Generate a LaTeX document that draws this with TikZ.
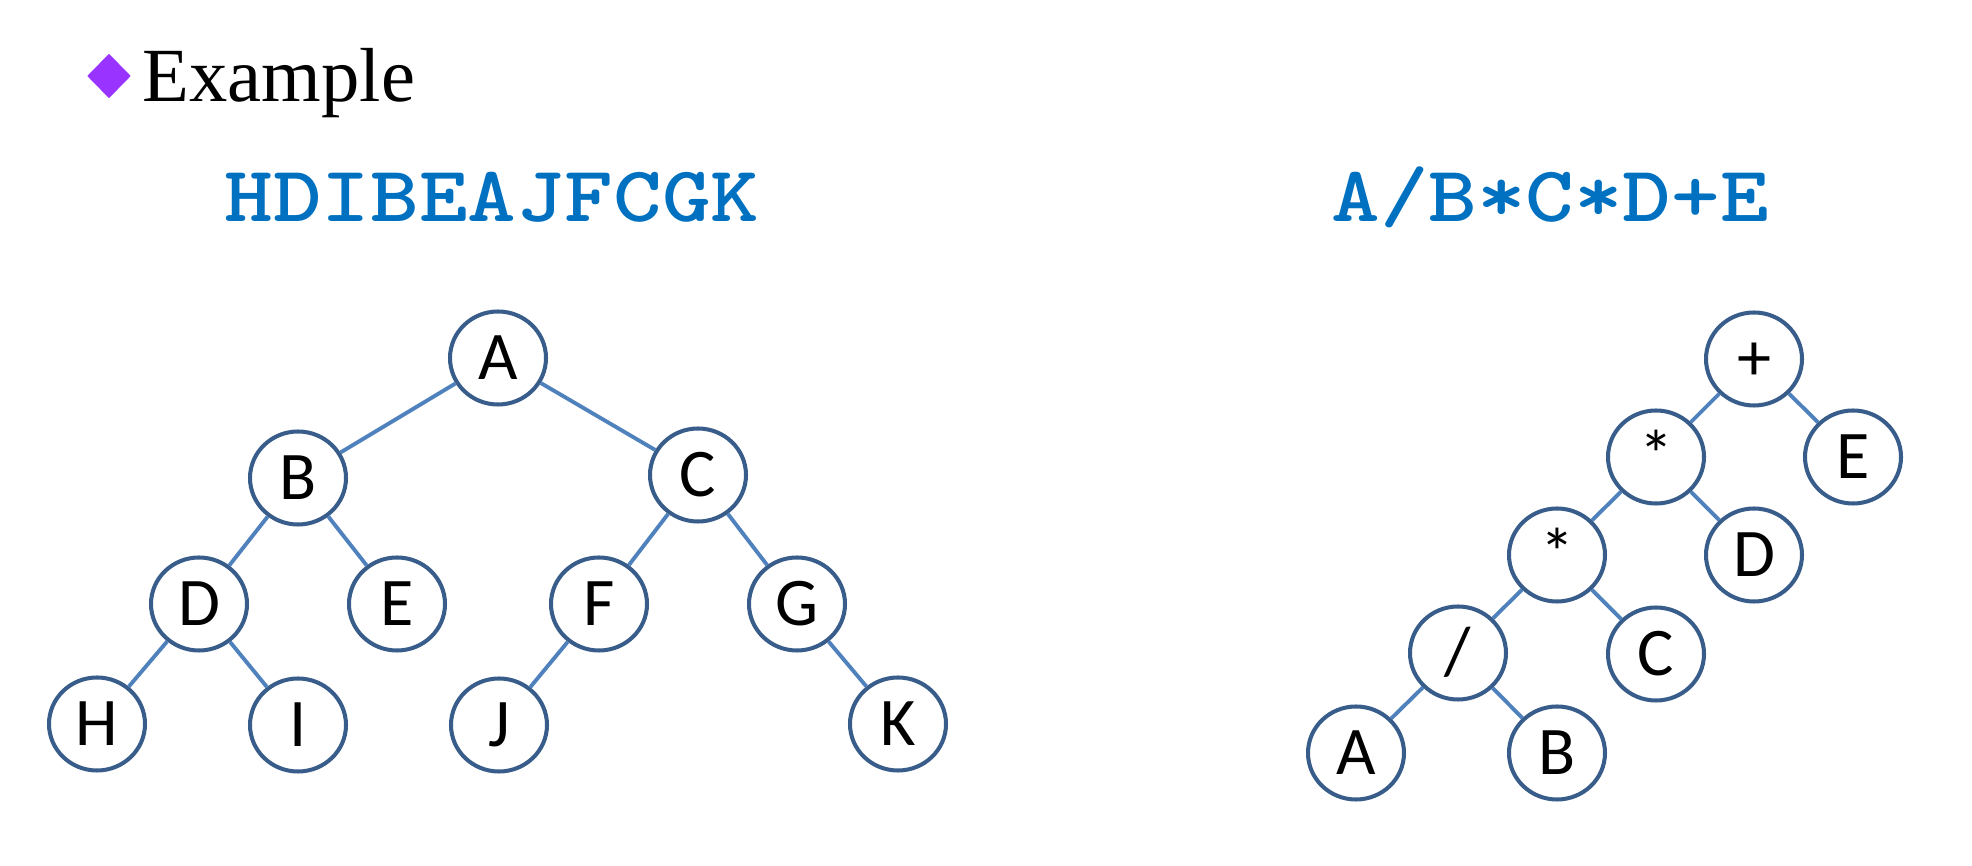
\documentclass[tikz,border=0pt]{standalone}
\usepackage{fontspec}
\setmainfont{Liberation Serif}
\setsansfont{Carlito}
\usepackage{tikz}
\usetikzlibrary{shapes.geometric}

\definecolor{titleblue}{HTML}{0070C0}
\definecolor{ringblue}{HTML}{385D8A}
\definecolor{linkblue}{HTML}{4F81BD}
\definecolor{markpurple}{HTML}{9933FF}

\newcommand{\widecode}[1]{\scalebox{1.17}[1]{#1}}

\begin{document}
\begin{tikzpicture}[
    x=0.1mm, y=-0.1mm,
    vertex/.style={draw=ringblue, line width=1.15pt, ellipse, inner sep=0pt,
                   minimum width=9.6mm, minimum height=9.3mm,
                   font=\sffamily\fontsize{19.4}{20}\selectfont,
                   text height=4.4mm, text depth=0pt},
    link/.style={draw=linkblue, line width=1.1pt},
    bullet/.style={diamond, fill=markpurple, inner sep=0pt,
                   minimum width=4.4mm, minimum height=4.5mm},
    heading/.style={anchor=base west, inner sep=0pt,
                    font=\fontsize{21.8}{24}\selectfont},
    expr/.style={anchor=base, inner sep=0pt, text=titleblue,
                 font=\ttfamily\bfseries\fontsize{22.5}{24}\selectfont}
]
\useasboundingbox (0,0) rectangle (1972,866);

\node[bullet]  (mark)    at (109,76)  {};
\node[heading] (example) at (142,102) {Example};
\node[expr]    (inorder) at (492,222) {\widecode{HDIBEAJFCGK}};
\node[expr]    (infix)   at (1550,222) {\widecode{A/B*C*D+E}};

\node[vertex] (a) at (498,358) {A};
\node[vertex] (b) at (298,478) {B};
\node[vertex] (c) at (698,475) {C};
\node[vertex] (d) at (199,604) {D};
\node[vertex] (e) at (397,604) {E};
\node[vertex] (f) at (599,604) {F};
\node[vertex] (g) at (797,604) {G};
\node[vertex] (h) at (97,724)  {H};
\node[vertex] (i) at (298,725) {I};
\node[vertex] (j) at (499,725) {J};
\node[vertex] (k) at (898,724) {K};

\draw[link] (a) -- (b);
\draw[link] (a) -- (c);
\draw[link] (b) -- (d);
\draw[link] (b) -- (e);
\draw[link] (c) -- (f);
\draw[link] (c) -- (g);
\draw[link] (d) -- (h);
\draw[link] (d) -- (i);
\draw[link] (f) -- (j);
\draw[link] (g) -- (k);

\node[vertex] (plus)  at (1754,359) {+};
\node[vertex] (mulhi) at (1656,457) {*};
\node[vertex] (re)    at (1853,457) {E};
\node[vertex] (mullo) at (1557,555) {*};
\node[vertex] (rd)    at (1754,555) {D};
\node[vertex] (div)   at (1458,653) {/};
\node[vertex] (rc)    at (1656,654) {C};
\node[vertex] (ra)    at (1356,753) {A};
\node[vertex] (rb)    at (1557,753) {B};

\draw[link] (plus)  -- (mulhi);
\draw[link] (plus)  -- (re);
\draw[link] (mulhi) -- (mullo);
\draw[link] (mulhi) -- (rd);
\draw[link] (mullo) -- (div);
\draw[link] (mullo) -- (rc);
\draw[link] (div)   -- (ra);
\draw[link] (div)   -- (rb);
\end{tikzpicture}
\end{document}
